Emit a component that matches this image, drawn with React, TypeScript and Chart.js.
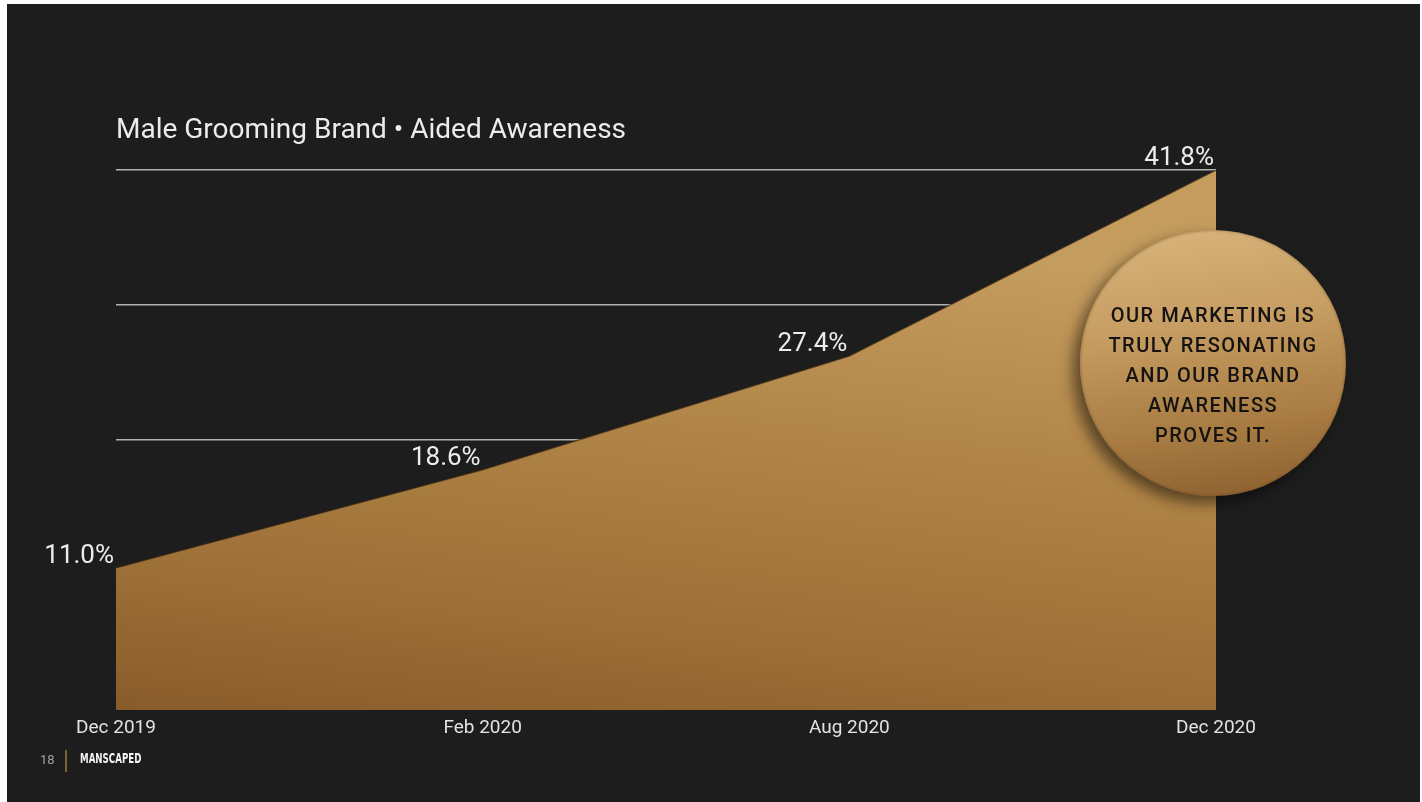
import React, { useEffect, useRef } from "react";
import { Chart, registerables } from "chart.js";

Chart.register(...registerables);

const categories: string[] = ["Dec 2019", "Feb 2020", "Aug 2020", "Dec 2020"];
const awareness: number[] = [11.0, 18.6, 27.4, 41.8];
const yMax = 41.8;
const yGridValues: number[] = [10.45, 20.9, 31.35, 41.8];
const titleText = "Male Grooming Brand • Aided Awareness";
const calloutLines: string[] = [
  "OUR MARKETING IS",
  "TRULY RESONATING",
  "AND OUR BRAND",
  "AWARENESS",
  "PROVES IT.",
];

const valueLabelPlugin = {
  id: "valueLabels",
  afterDatasetsDraw(chart: any) {
    const meta = chart.getDatasetMeta(0);
    const c = chart.ctx;
    c.save();
    c.font = "400 26px Roboto";
    c.fillStyle = "#ececec";
    c.textAlign = "right";
    c.textBaseline = "alphabetic";
    meta.data.forEach((el: any, i: number) => {
      const v = chart.data.datasets[0].data[i] as number;
      c.fillText(`${v.toFixed(1)}%`, el.x - 2, el.y - 5);
    });
    c.restore();
  },
};

export default function App() {
  const canvasRef = useRef<HTMLCanvasElement | null>(null);

  useEffect(() => {
    if (!canvasRef.current) return;
    Chart.defaults.font.family = "Roboto";
    const chart = new Chart(canvasRef.current, {
      type: "line",
      data: {
        labels: categories,
        datasets: [
          {
            data: awareness,
            fill: "origin",
            tension: 0,
            pointRadius: 0,
            borderWidth: 1.5,
            borderColor: "rgba(50,34,15,0.6)",
            backgroundColor: (ctx: any) => {
              const { chart } = ctx;
              const area = chart.chartArea;
              if (!area) return "#a47640";
              const g = chart.ctx.createLinearGradient(
                area.left,
                area.bottom,
                area.left + 60,
                area.top
              );
              g.addColorStop(0, "#885b2a");
              g.addColorStop(0.25, "#9c6f37");
              g.addColorStop(0.55, "#ac7f42");
              g.addColorStop(1, "#c49c5e");
              return g;
            },
          },
        ],
      },
      options: {
        responsive: false,
        animation: false,
        layout: {
          padding: { left: 116, right: 206, top: 114.2, bottom: 55.2 },
        },
        plugins: {
          legend: { display: false },
          tooltip: { enabled: false },
          title: {
            display: true,
            text: titleText,
            align: "start",
            color: "#ececec",
            font: { size: 28, weight: "400", family: "Roboto" },
            padding: { top: 0, bottom: 22.2 },
          },
        },
        scales: {
          x: {
            type: "category",
            offset: false,
            grid: { display: false, drawTicks: false },
            border: { display: false },
            ticks: {
              color: "#e2e2e2",
              font: { size: 19, family: "Roboto" },
              padding: 7,
              maxRotation: 0,
              autoSkip: false,
            },
          },
          y: {
            min: 0,
            max: yMax,
            afterBuildTicks: (scale: any) => {
              scale.ticks = yGridValues.map((v) => ({ value: v }));
            },
            grid: {
              color: "rgba(205,205,205,0.85)",
              lineWidth: 1.5,
              drawTicks: false,
            },
            border: { display: false },
            ticks: { display: false },
          },
        },
      },
      plugins: [valueLabelPlugin],
    });
    return () => chart.destroy();
  }, []);

  return (
    <div
      style={{
        position: "fixed",
        left: 0,
        top: 0,
        width: 1422,
        height: 802,
        background: "#ffffff",
        overflow: "hidden",
      }}
    >
      <div
        style={{
          position: "absolute",
          left: 7,
          top: 4,
          width: 1413,
          height: 798,
          background: "#1d1d1e",
        }}
      />
      <canvas
        ref={canvasRef}
        width={1422}
        height={802}
        style={{ position: "absolute", left: 0, top: 0 }}
      />
      <div
        style={{
          position: "absolute",
          left: 1080,
          top: 230,
          width: 266,
          height: 266,
          borderRadius: "50%",
          background:
            "linear-gradient(172deg, #d9b57c 0%, #c79e63 35%, #a97d43 70%, #8a5e2e 100%)",
          boxShadow:
            "-7px 7px 14px rgba(0,0,0,0.5), inset 0 0 3px rgba(90,60,25,0.6)",
        }}
      >
        <div
          style={{
            position: "absolute",
            left: 0,
            right: 0,
            top: 70,
            textAlign: "center",
            fontFamily: "Roboto",
            fontWeight: 500,
            fontSize: 20,
            lineHeight: "30px",
            letterSpacing: "1.5px",
            color: "#151311",
          }}
        >
          {calloutLines.map((l, i) => (
            <div key={i}>{l}</div>
          ))}
        </div>
      </div>
      <div
        style={{
          position: "absolute",
          left: 40,
          top: 752,
          fontFamily: "Roboto",
          fontSize: 13,
          color: "#a0a0a0",
        }}
      >
        18
      </div>
      <div
        style={{
          position: "absolute",
          left: 65,
          top: 750,
          width: 1.5,
          height: 22,
          background: "#7a6033",
        }}
      />
      <div
        style={{
          position: "absolute",
          left: 80,
          top: 750,
          fontFamily: "'DejaVu Sans', sans-serif",
          fontWeight: 900,
          fontSize: 14,
          color: "#f4f4f4",
          transform: "scaleX(0.62)",
          transformOrigin: "left top",
          whiteSpace: "nowrap",
        }}
      >
        MANSCAPED
      </div>
    </div>
  );
}
